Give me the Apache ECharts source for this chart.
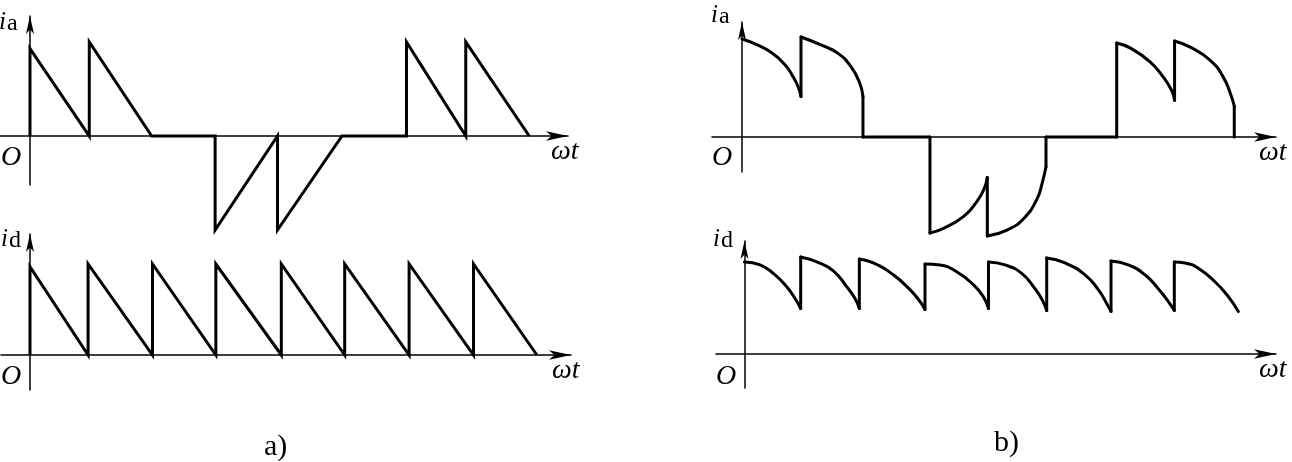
<!DOCTYPE html>
<html><head><meta charset="utf-8">
<script src="https://cdn.jsdelivr.net/npm/echarts@6/dist/echarts.min.js"></script>
<style>html,body{margin:0;padding:0;background:#fff}#c{width:1292px;height:462px}</style>
</head><body><div id="c"></div>
<script>
// ---- data (x in electrical degrees ωt, y in relative current) ----
const aIaX = [0, 0, 57, 57, 117, 178, 178, 238, 238, 300, 362, 362, 419, 419, 480];
const aIaY = [0, 0.93, 0, 1.0, 0, 0, -1.0, 0, -1.0, 0, 0, 1.0, 0, 1.0, 0];

const aIdX = [0, 0, 55, 55, 116, 116, 176, 176, 238, 238, 298, 298, 359, 359, 420, 420, 480];
const aIdY = [0, 0.97, 0, 1.0, 0, 1.0, 0, 1.0, 0, 1.0, 0, 1.0, 0, 1.0, 0, 1.0, 0];

const bIaX = [0, 12.7, 28.3, 41.9, 49.7, 54.6, 57.5, 57.5, 77, 93.6, 106.2, 114.7, 117.9, 117.9,
  183.2, 183.2, 196.9, 216.4, 229, 235.8, 239.1, 239.1, 258.3, 274.9, 287.8, 292.7, 296.3, 296.3,
  365.2, 365.2, 378.2, 397.7, 410.3, 418.8, 421.6, 421.6, 436.3, 455.8, 468.8, 477.0, 479.8, 479.8];
const bIaY = [0.99, 0.94, 0.855, 0.73, 0.61, 0.51, 0.41, 1.01, 0.93, 0.845, 0.71, 0.545, 0.41, 0,
  0, -0.97, -0.92, -0.80, -0.65, -0.53, -0.41, -1.0, -0.94, -0.82, -0.62, -0.46, -0.30, 0,
  0, 0.95, 0.90, 0.76, 0.61, 0.47, 0.37, 0.97, 0.91, 0.78, 0.61, 0.41, 0.31, 0];

const bIdX = [0, 15.1, 28, 41, 49.1, 54.6, 54.6, 70.2, 86.3, 99.3, 107.4, 111.6, 111.6,
  125.2, 144.6, 160.8, 170.6, 175.4, 175.4, 190, 206.2, 222.4, 232.1, 237.1, 237.1,
  253.2, 269.4, 282.3, 289.4, 293.7, 293.7, 311.5, 330.9, 343.8, 352.0, 356.2, 356.2,
  373, 389.2, 402.1, 411.9, 417.7, 417.7, 428.1, 441, 457.2, 470.2, 479.9];
const bIdY = [0.93, 0.90, 0.815, 0.68, 0.56, 0.46, 0.98, 0.93, 0.84, 0.68, 0.56, 0.46, 0.96,
  0.92, 0.80, 0.65, 0.53, 0.45, 0.91, 0.90, 0.83, 0.70, 0.58, 0.46, 0.93,
  0.90, 0.815, 0.66, 0.545, 0.44, 0.97, 0.92, 0.80, 0.65, 0.51, 0.43, 0.94,
  0.90, 0.80, 0.66, 0.53, 0.44, 0.93, 0.92, 0.866, 0.73, 0.58, 0.43];

// ---- layout (pixels) ----
const panels = [
  {ox: 30, oy: 136, sx: 1.04, sy: 94, xl: 0, xTip: 579, yTip: 7, yb: 185, X: aIaX, Y: aIaY, curved: false},
  {ox: 30, oy: 355, sx: 1.056, sy: 91, xl: 1, xTip: 582, yTip: 225, yb: 390, X: aIdX, Y: aIdY, curved: false},
  {ox: 742, oy: 137, sx: 1.026, sy: 99, xl: 712, xTip: 1287, yTip: 13, yb: 172, X: bIaX, Y: bIaY, curved: true},
  {ox: 744.5, oy: 354, sx: 1.029, sy: 99, xl: 716, xTip: 1287, yTip: 232, yb: 388, X: bIdX, Y: bIdY, curved: true}
];
const XARROW = [7, 22], YARROW = [6, 18];

const grid = [], xAxis = [], yAxis = [], series = [];
panels.forEach((p, i) => {
  const xr = p.xTip - XARROW[1] / 2;
  const yt = p.yTip + YARROW[1] / 2;
  grid.push({left: p.xl, top: yt, width: xr - p.xl, height: p.yb - yt, containLabel: false});
  const axisLine = (sym) => ({show: true, onZero: true, symbol: ['none', 'arrow'], symbolSize: sym,
    lineStyle: {color: '#000', width: 1.5}});
  xAxis.push({type: 'value', gridIndex: i, min: (p.xl - p.ox) / p.sx, max: (xr - p.ox) / p.sx,
    axisLine: axisLine(XARROW), axisTick: {show: false}, axisLabel: {show: false}, splitLine: {show: false}});
  yAxis.push({type: 'value', gridIndex: i, min: -(p.yb - p.oy) / p.sy, max: (p.oy - yt) / p.sy,
    axisLine: axisLine(YARROW), axisTick: {show: false}, axisLabel: {show: false}, splitLine: {show: false}});

  const pts = p.X.map((x, k) => [x, p.Y[k]]);
  const base = {type: 'line', xAxisIndex: i, yAxisIndex: i, clip: false, symbol: 'none', showSymbol: false, z: 3};
  if (!p.curved) {
    series.push(Object.assign({}, base, {data: pts,
      lineStyle: {color: '#000', width: 3, join: 'miter', miterLimit: 4, cap: 'butt'}}));
  } else {
    // split into smooth arcs (x strictly increasing) and vertical jumps
    const pieces = [];
    let run = [pts[0]];
    for (let k = 1; k < pts.length; k++) {
      if (pts[k][0] === pts[k - 1][0]) {
        if (run.length > 1) pieces.push(run);
        pieces.push([pts[k - 1], pts[k]]);
        run = [pts[k]];
      } else {
        run.push(pts[k]);
      }
    }
    if (run.length > 1) pieces.push(run);
    pieces.forEach(pc => series.push(Object.assign({}, base, {data: pc, smooth: 0.5,
      lineStyle: {color: '#000', width: 3, join: 'round', cap: 'round'}})));
  }
});

const serif = '"Liberation Serif", "DejaVu Serif", serif';
function txt(text, x, baseline, size, italic) {
  return {type: 'text', x: x, y: baseline - 0.3 * size, silent: true,
    style: {text: text, fill: '#000', fontFamily: serif, fontSize: size,
      fontStyle: italic ? 'italic' : 'normal', verticalAlign: 'middle', align: 'left'}};
}
const graphic = [
  // panel a
  txt('i', -1, 30, 25, true), txt('a', 7, 31, 24, false),
  txt('O', 1, 166, 28, true), txt('ωt', 551, 160, 28, true),
  txt('i', 1, 247, 25, true), txt('d', 9, 248, 24, false),
  txt('O', 1, 385, 28, true), txt('ωt', 552, 379, 28, true),
  txt('a)', 264, 456, 30, false),
  // panel b
  txt('i', 711, 23, 25, true), txt('a', 719, 24, 24, false),
  txt('O', 712, 166, 28, true), txt('ωt', 1259, 161, 28, true),
  txt('i', 713, 247, 25, true), txt('d', 721, 248, 24, false),
  txt('O', 716, 385, 28, true), txt('ωt', 1259, 378, 28, true),
  txt('b)', 994, 452, 30, false)
];

const chart = echarts.init(document.getElementById('c'), null, {renderer: 'canvas'});
chart.setOption({backgroundColor: '#fff', animation: false, grid, xAxis, yAxis, series, graphic});
</script></body></html>
